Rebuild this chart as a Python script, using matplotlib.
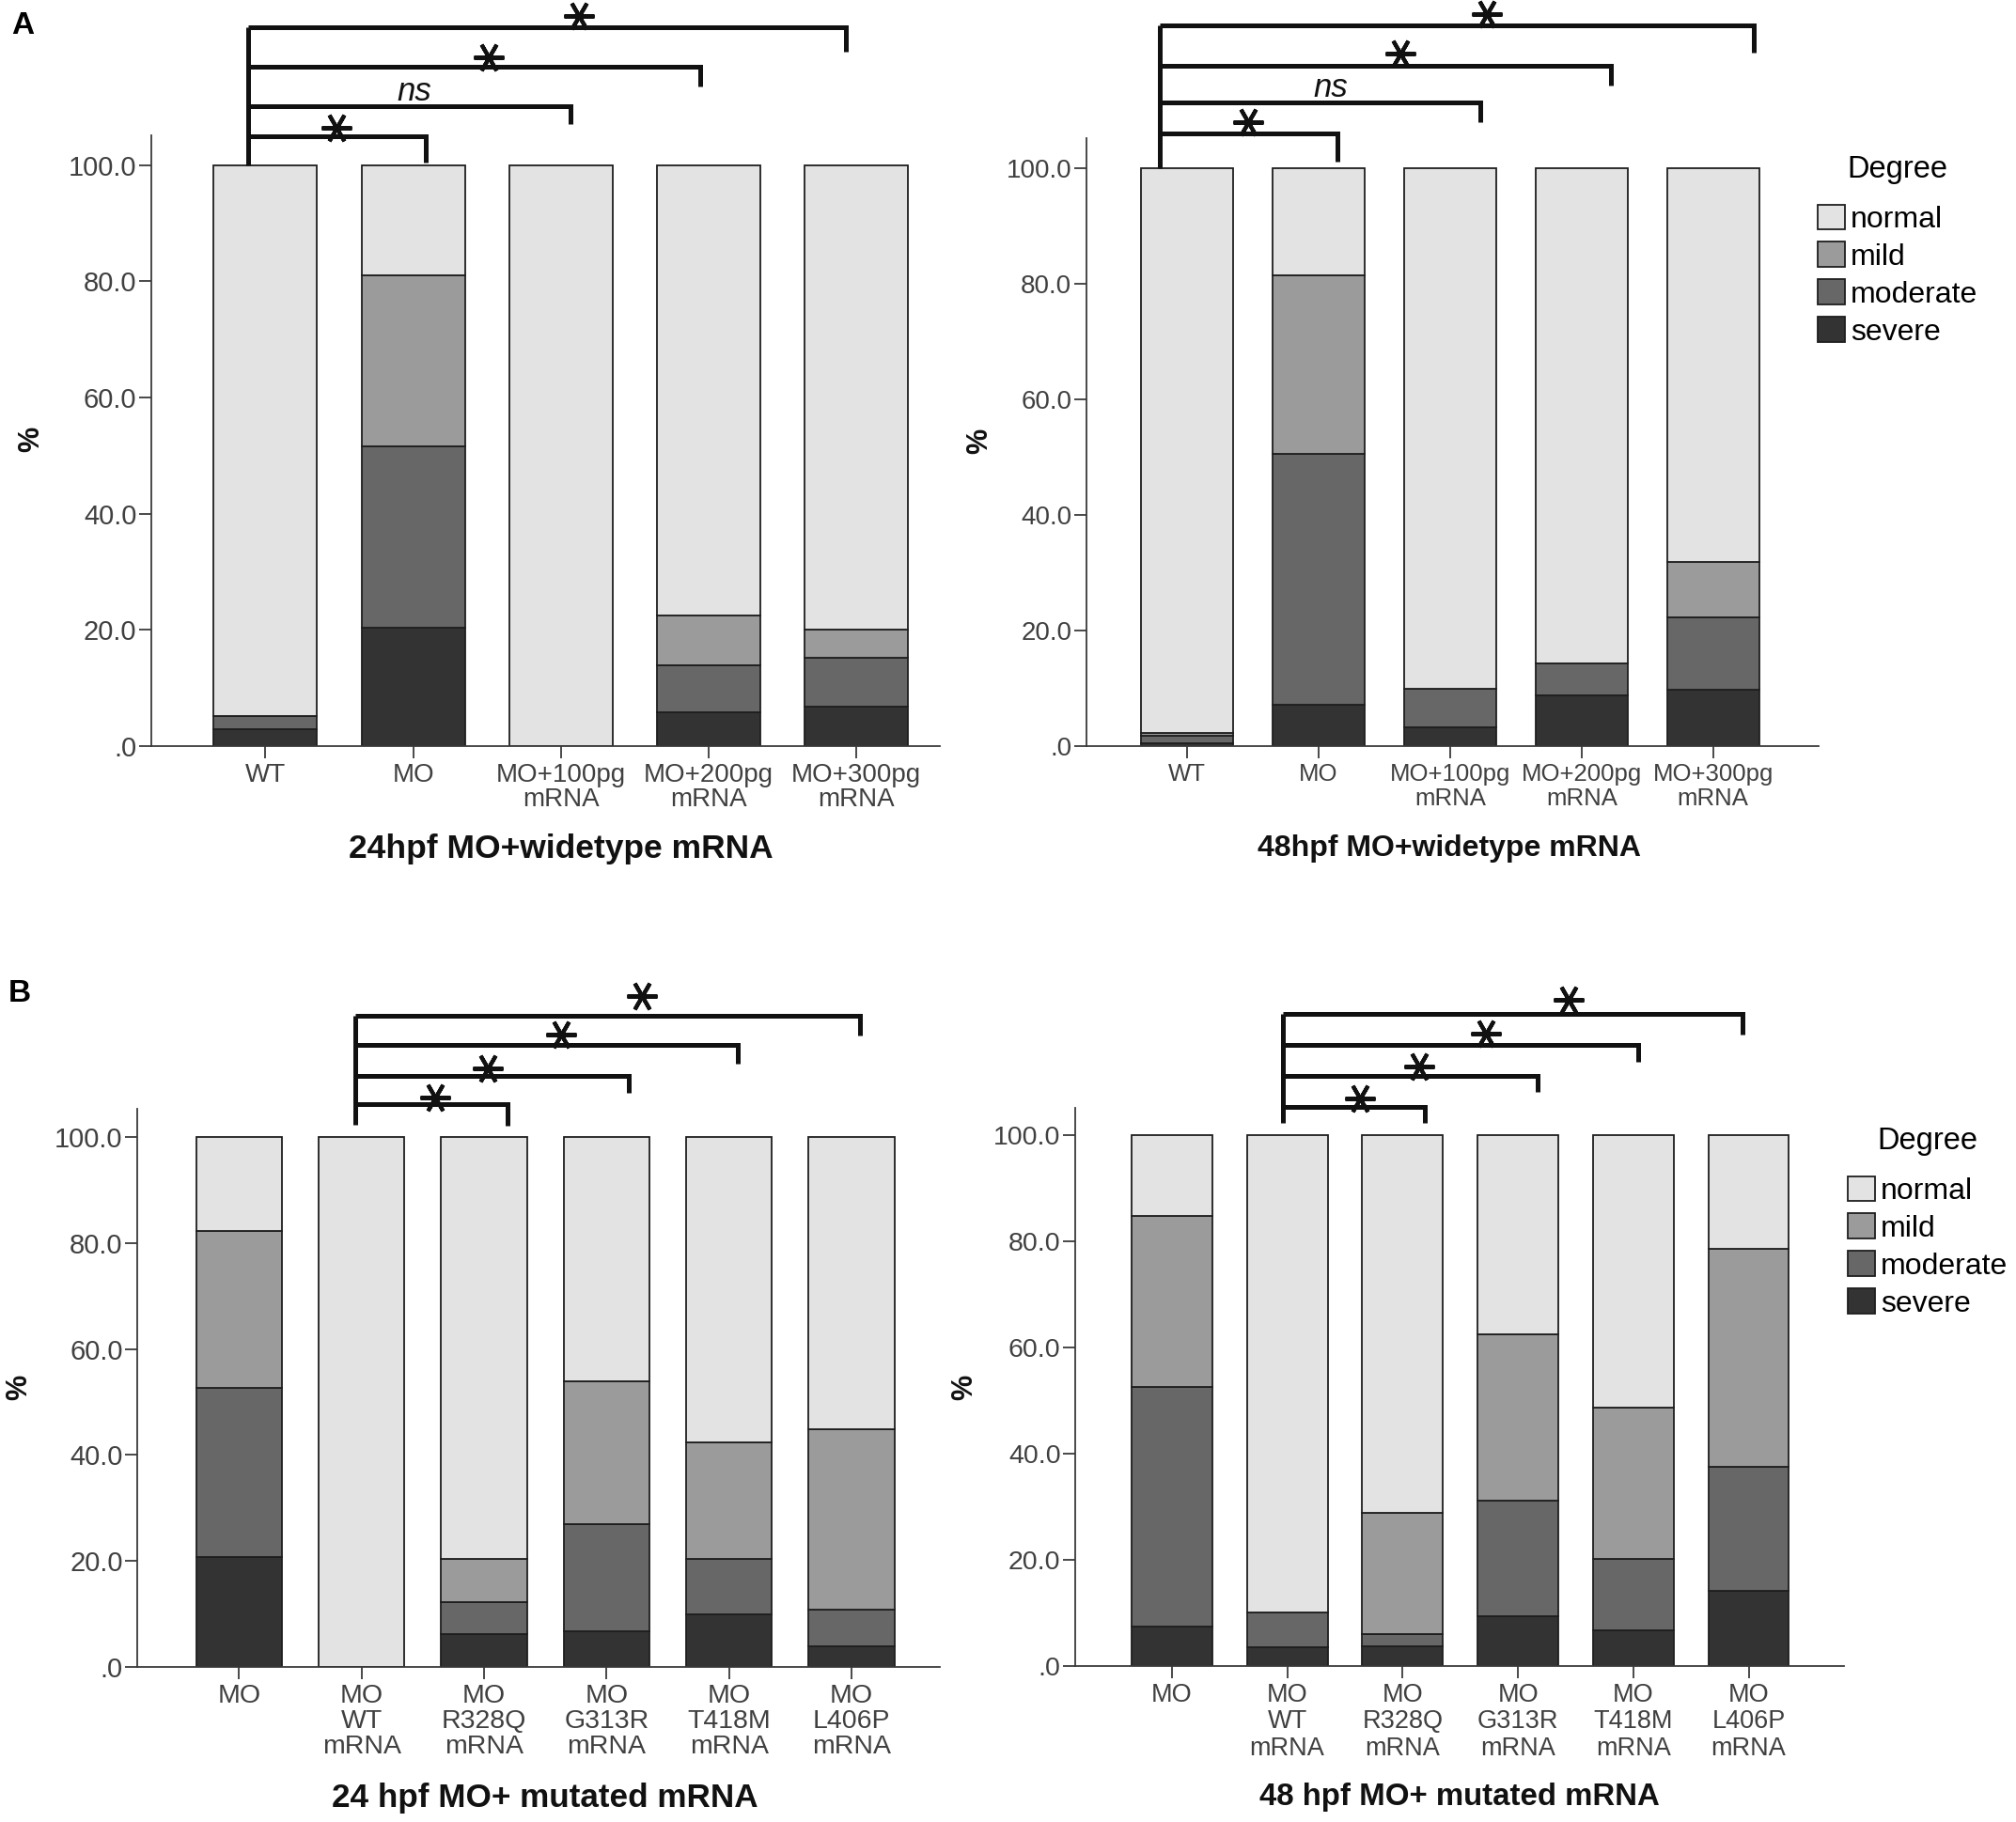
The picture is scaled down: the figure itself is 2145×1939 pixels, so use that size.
import matplotlib
matplotlib.use('Agg')
import matplotlib.pyplot as plt
import numpy as np
from matplotlib.patches import Patch

plt.rcParams['font.family'] = ['Liberation Sans', 'DejaVu Sans']

# ---------------- data ----------------
degrees = ['normal', 'mild', 'moderate', 'severe']
degree_colors = ['#e3e3e3', '#9b9b9b', '#676767', '#333333']

cats_a = ['WT', 'MO', 'MO+100pg\nmRNA', 'MO+200pg\nmRNA', 'MO+300pg\nmRNA']
cats_b = ['MO', 'MO\nWT\nmRNA', 'MO\nR328Q\nmRNA', 'MO\nG313R\nmRNA', 'MO\nT418M\nmRNA', 'MO\nL406P\nmRNA']

# 24hpf MO + widetype mRNA
a24_severe   = [2.9, 20.4, 0.0, 5.7, 6.8]
a24_moderate = [2.2, 31.1, 0.0, 8.2, 8.3]
a24_mild     = [0.0, 29.6, 0.0, 8.6, 4.9]
a24_normal   = [94.9, 18.9, 100.0, 77.5, 80.0]

# 48hpf MO + widetype mRNA
a48_severe   = [0.5, 7.1, 3.2, 8.7, 9.7]
a48_moderate = [1.3, 43.5, 6.7, 5.6, 12.5]
a48_mild     = [0.5, 30.8, 0.0, 0.0, 9.6]
a48_normal   = [97.7, 18.6, 90.1, 85.7, 68.2]

# 24 hpf MO + mutated mRNA
b24_severe   = [20.8, 0.0, 6.3, 6.8, 9.9, 4.0]
b24_moderate = [31.8, 0.0, 5.9, 20.1, 10.5, 6.9]
b24_mild     = [29.6, 0.0, 8.2, 27.0, 22.0, 34.0]
b24_normal   = [17.8, 100.0, 79.6, 46.1, 57.6, 55.1]

# 48 hpf MO + mutated mRNA
b48_severe   = [7.4, 3.4, 3.7, 9.3, 6.6, 14.1]
b48_moderate = [45.1, 6.7, 2.3, 21.8, 13.5, 23.3]
b48_mild     = [32.3, 0.0, 22.8, 31.3, 28.5, 41.1]
b48_normal   = [15.2, 89.9, 71.2, 37.6, 51.4, 21.5]

titles = ['24hpf MO+widetype mRNA', '48hpf MO+widetype mRNA',
          '24 hpf MO+ mutated mRNA', '48 hpf MO+ mutated mRNA']

y_ticks = [0, 20, 40, 60, 80, 100]
y_tick_labels = ['.0', '20.0', '40.0', '60.0', '80.0', '100.0']

# significance comparisons: (reference bar, compared bar, label)
comp_a = [(0, 1, '*'), (0, 2, 'ns'), (0, 3, '*'), (0, 4, '*')]
comp_b = [(1, 2, '*'), (1, 3, '*'), (1, 4, '*'), (1, 5, '*')]

# ---------------- figure ----------------
W, H = 2145, 1939
fig = plt.figure(figsize=(W / 100, H / 100), dpi=100)


def px_axes(x0, x1, ybot, ytop):
    return fig.add_axes([x0 / W, 1 - ybot / H, (x1 - x0) / W, (ybot - ytop) / H])


panels = [
    dict(rect=(160.7, 1000.3, 793.7, 143.6), xlim=(-0.774, 4.567), ylim=105.2,
         cats=cats_a, data=(a24_severe, a24_moderate, a24_mild, a24_normal),
         title_xy=(597, 903), title_fs=25.5, pct_xy=(33, 467),
         xfs=20, yfs=21, ls=1.03, comps=comp_a,
         bl=dict(xl=-0.12, yl_bot=100.0,
                 ys=[104.9, 110.1, 116.9, 123.8], xr_off=[0.087, 0.065, -0.056, -0.069],
                 yr_end=[100.5, 107.1, 113.5, 119.6],
                 lab_x=[0.48, 1.01, 1.51, 2.12], lab_y=[106.4, 112.7, 118.6, 125.7])),
    dict(rect=(1155.5, 1934.6, 793.7, 147.2), xlim=(-0.77, 4.80), ylim=105.2,
         cats=cats_a, data=(a48_severe, a48_moderate, a48_mild, a48_normal),
         title_xy=(1542.5, 903), title_fs=23, pct_xy=(1042, 469),
         xfs=18.5, yfs=20, ls=1.13, comps=comp_a,
         bl=dict(xl=-0.21, yl_bot=100.0,
                 ys=[106.0, 111.4, 117.8, 124.7], xr_off=[0.14, 0.23, 0.22, 0.31],
                 yr_end=[101.1, 108.0, 114.4, 120.1],
                 lab_x=[0.46, 1.09, 1.625, 2.28], lab_y=[108.0, 113.9, 119.8, 126.7])),
    dict(rect=(145.8, 999.8, 1774.4, 1179.7), xlim=(-0.834, 5.72), ylim=105.3,
         cats=cats_b, data=(b24_severe, b24_moderate, b24_mild, b24_normal),
         title_xy=(580, 1913), title_fs=25.3, pct_xy=(20, 1476),
         xfs=20.5, yfs=21, ls=1.03, comps=comp_b,
         bl=dict(xl=0.95, yl_bot=102.3,
                 ys=[106.1, 111.5, 117.2, 122.8], xr_off=[0.19, 0.18, 0.07, 0.07],
                 yr_end=[102.1, 108.3, 113.8, 119.1],
                 lab_x=[1.6, 2.03, 2.625, 3.29], lab_y=[107.4, 112.9, 119.3, 126.5])),
    dict(rect=(1143.8, 1962.4, 1772.6, 1178.5), xlim=(-0.84, 5.83), ylim=105.2,
         cats=cats_b, data=(b48_severe, b48_moderate, b48_mild, b48_normal),
         title_xy=(1553, 1913), title_fs=23.8, pct_xy=(1026, 1476),
         xfs=19.5, yfs=20.5, ls=1.13, comps=comp_b,
         bl=dict(xl=0.96, yl_bot=102.3,
                 ys=[105.3, 111.1, 117.0, 122.8], xr_off=[0.19, 0.17, 0.04, -0.05],
                 yr_end=[102.3, 108.2, 113.8, 118.9],
                 lab_x=[1.63, 2.14, 2.72, 3.44], lab_y=[106.9, 112.9, 119.1, 125.4])),
]

tick_color = '#404040'
axis_color = '#3a3a3a'

for i, p in enumerate(panels):
    ax = px_axes(*p['rect'])
    severe, moderate, mild, normal = p['data']
    x = np.arange(len(p['cats']))
    bottom = np.zeros(len(x))
    for vals, col in zip((severe, moderate, mild, normal),
                         (degree_colors[3], degree_colors[2], degree_colors[1], degree_colors[0])):
        ax.bar(x, vals, width=0.70, bottom=bottom, color=col, edgecolor='#1e1e1e',
               linewidth=1.3, zorder=2)
        bottom = bottom + np.array(vals)

    ax.set_xlim(*p['xlim'])
    ax.set_ylim(0, p['ylim'])
    for s in ('top', 'right'):
        ax.spines[s].set_visible(False)
    for s in ('left', 'bottom'):
        ax.spines[s].set_color(axis_color)
        ax.spines[s].set_linewidth(1.3)
    ax.set_xticks(x)
    ax.set_xticklabels(p['cats'], fontsize=p['xfs'], color=tick_color, linespacing=p['ls'])
    ax.set_yticks(y_ticks)
    ax.set_yticklabels(y_tick_labels, fontsize=p['yfs'], color=tick_color)
    ax.tick_params(axis='x', length=9.5, width=1.3, color=axis_color, pad=3.5)
    ax.tick_params(axis='y', length=9.5, width=1.3, color=axis_color, pad=1.5)

    # titles and % label
    tx, ty = p['title_xy']
    fig.text(tx / W, 1 - ty / H, titles[i], fontsize=p['title_fs'], fontweight='bold',
             ha='center', va='center', color='#111111')
    px_, py_ = p['pct_xy']
    fig.text(px_ / W, 1 - py_ / H, '%', fontsize=22, fontweight='bold', rotation=90,
             ha='center', va='center', color='#111111')

    # significance brackets
    b = p['bl']
    lw = 3.6
    xl = b['xl']
    ax.plot([xl, xl], [b['yl_bot'], max(b['ys'])], color='#111111', lw=lw,
            clip_on=False, solid_capstyle='butt', zorder=5)
    for k, (ref, tgt, lab) in enumerate(p['comps']):
        xr = tgt + b['xr_off'][k]
        yk = b['ys'][k]
        ax.plot([xl, xr, xr], [yk, yk, b['yr_end'][k]], color='#111111', lw=lw,
                clip_on=False, solid_joinstyle='miter', solid_capstyle='butt', zorder=5)
        if lab == '*':
            ax.plot(b['lab_x'][k], b['lab_y'][k], marker=(6, 2, 90), markersize=23,
                    markeredgewidth=3.0, color='#111111', clip_on=False, zorder=6)
        else:
            ax.text(b['lab_x'][k], b['lab_y'][k], lab, fontsize=25, fontstyle='italic',
                    ha='center', va='center', color='#111111', clip_on=False, zorder=6)

    # legend on right panels
    if i in (1, 3):
        handles = [Patch(facecolor=c, edgecolor='#1e1e1e', linewidth=1.3)
                   for c in degree_colors]
        lx = 1934 if i == 1 else 1966
        ly = 165 if i == 1 else 1199
        leg = ax.legend(handles, degrees, title='Degree', loc='upper left',
                        bbox_to_anchor=(lx / W, 1 - ly / H), bbox_transform=fig.transFigure,
                        frameon=False, fontsize=23, title_fontsize=23.5,
                        handlelength=0.9, handleheight=0.9, handletextpad=0.2,
                        labelspacing=0.27, borderpad=0, borderaxespad=0)
        leg._legend_box.sep = 15.5

fig.text(24 / W, 1 - 27 / H, 'A', fontsize=24, fontweight='bold', ha='center', va='center')
fig.text(21 / W, 1 - 1057 / H, 'B', fontsize=24, fontweight='bold', ha='center', va='center')

fig.savefig('out.png', dpi=100, facecolor='white')
